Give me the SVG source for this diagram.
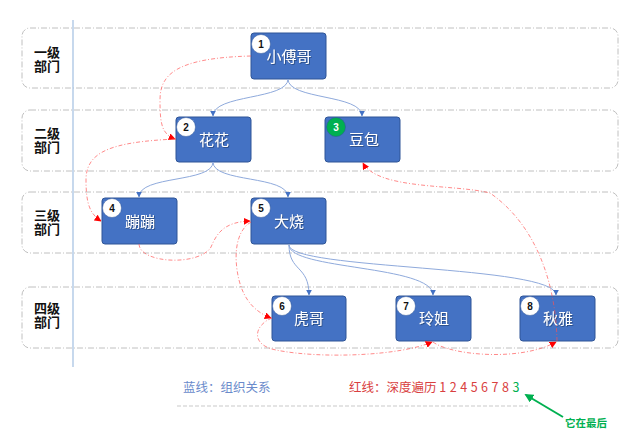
<svg xmlns="http://www.w3.org/2000/svg" width="639" height="438" viewBox="0 0 639 438">
  <defs>
    <marker id="arrBlue" viewBox="0 0 10 10" refX="9" refY="5" markerWidth="6" markerHeight="6" orient="auto" markerUnits="userSpaceOnUse">
      <path d="M0,0 L10,5 L0,10 z" fill="#4472C4"/>
    </marker>
    <marker id="arrRed" viewBox="0 0 10 10" refX="9" refY="5" markerWidth="7" markerHeight="7" orient="auto" markerUnits="userSpaceOnUse">
      <path d="M0,0 L10,5 L0,10 z" fill="#FF0000"/>
    </marker>
    <marker id="arrGreen" viewBox="0 0 10 10" refX="8" refY="5" markerWidth="9" markerHeight="9" orient="auto" markerUnits="userSpaceOnUse">
      <path d="M0,0 L10,5 L0,10 z" fill="#00B050"/>
    </marker>
    <filter id="txtShadow" x="-20%" y="-20%" width="140%" height="140%">
      <feDropShadow dx="0.8" dy="0.8" stdDeviation="0.4" flood-color="#1F3864" flood-opacity="0.7"/>
    </filter>
  </defs>
  <style>
    .band { fill: none; stroke: #C0C0C0; stroke-width: 1; stroke-dasharray: 6 2 1 2; }
    .lvl { font-family: "Liberation Sans", "Noto Sans CJK SC", sans-serif; font-size: 13px; font-weight: bold; fill: #111; text-anchor: middle; }
    .node rect { fill: #4472C4; stroke: #2F5597; stroke-width: 1; }
    .node .name { font-family: "Noto Sans CJK SC", sans-serif; font-size: 15px; fill: #FFFFFF; text-anchor: middle; filter: url(#txtShadow); }
    .badge { fill: #FFFFFF; stroke: #2F5597; stroke-width: 0.5; }
    .badge.green { fill: #00B050; }
    .num { font-family: "Liberation Sans", sans-serif; font-size: 10px; font-weight: bold; fill: #111; text-anchor: middle; }
    .num.white { fill: #FFFFFF; }
    .blue { fill: none; stroke: #8FAADC; stroke-width: 1; marker-end: url(#arrBlue); }
    .red { fill: none; stroke: #FF5050; stroke-opacity: 0.75; stroke-width: 0.9; stroke-dasharray: 4 2 1 2; marker-end: url(#arrRed); }
    .legend { font-family: "Noto Sans CJK SC", sans-serif; font-size: 12.5px; }
  </style>

  <rect width="639" height="438" fill="#FFFFFF"/>

  <!-- level bands -->
  <g id="bands">
    <rect class="band" x="22" y="28" width="596" height="60" rx="8"/>
    <rect class="band" x="22" y="110" width="596" height="61" rx="8"/>
    <rect class="band" x="22" y="192" width="596" height="61" rx="8"/>
    <rect class="band" x="22" y="287" width="596" height="61" rx="8"/>
    <line x1="73" y1="20" x2="73" y2="367" stroke="#A9C4E4" stroke-width="1.3"/>
  </g>

  <!-- level labels -->
  <g id="levels">
    <text class="lvl" x="47" y="57">一级</text>
    <text class="lvl" x="47" y="71">部门</text>
    <text class="lvl" x="47" y="138">二级</text>
    <text class="lvl" x="47" y="152">部门</text>
    <text class="lvl" x="47" y="220">三级</text>
    <text class="lvl" x="47" y="234">部门</text>
    <text class="lvl" x="47" y="313">四级</text>
    <text class="lvl" x="47" y="327">部门</text>
  </g>

  <!-- nodes -->
  <g id="n1" class="node">
    <rect x="251" y="33" width="75" height="46" rx="3"/>
    <text class="name" x="289" y="62">小傅哥</text>
    <circle class="badge" cx="261" cy="44" r="9.5"/>
    <text class="num" x="261" y="47.5">1</text>
  </g>
  <g id="n2" class="node">
    <rect x="176" y="117" width="75" height="45" rx="3"/>
    <text class="name" x="214" y="145">花花</text>
    <circle class="badge" cx="186" cy="127" r="9.5"/>
    <text class="num" x="186" y="130.5">2</text>
  </g>
  <g id="n3" class="node">
    <rect x="325" y="117" width="75" height="45" rx="3"/>
    <text class="name" x="364" y="145">豆包</text>
    <circle class="badge green" cx="336" cy="127" r="9.5"/>
    <text class="num white" x="336" y="130.5">3</text>
  </g>
  <g id="n4" class="node">
    <rect x="102" y="198" width="75" height="46" rx="3"/>
    <text class="name" x="140" y="227">蹦蹦</text>
    <circle class="badge" cx="112" cy="208" r="9.5"/>
    <text class="num" x="112" y="211.5">4</text>
  </g>
  <g id="n5" class="node">
    <rect x="251" y="198" width="75" height="46" rx="3"/>
    <text class="name" x="289" y="227">大烧</text>
    <circle class="badge" cx="261" cy="208" r="9.5"/>
    <text class="num" x="261" y="211.5">5</text>
  </g>
  <g id="n6" class="node">
    <rect x="272" y="296" width="74" height="45" rx="3"/>
    <text class="name" x="309" y="324">虎哥</text>
    <circle class="badge" cx="282" cy="306" r="9.5"/>
    <text class="num" x="282" y="309.5">6</text>
  </g>
  <g id="n7" class="node">
    <rect x="396" y="296" width="75" height="45" rx="3"/>
    <text class="name" x="434" y="324">玲姐</text>
    <circle class="badge" cx="406" cy="306" r="9.5"/>
    <text class="num" x="406" y="309.5">7</text>
  </g>
  <g id="n8" class="node">
    <rect x="520" y="296" width="75" height="45" rx="3"/>
    <text class="name" x="558" y="324">秋雅</text>
    <circle class="badge" cx="530" cy="306" r="9.5"/>
    <text class="num" x="530" y="309.5">8</text>
  </g>

  <!-- connectors: blue = reporting lines, red = depth-first visiting order -->
  <g id="connectors">
    <path class="blue" d="M288,79 C288,100 213,94 213,116"/>
    <path class="blue" d="M288,79 C288,100 362,94 362,116"/>
    <path class="blue" d="M213,162 C213,183 139,175 139,197"/>
    <path class="blue" d="M213,162 C213,183 288,175 288,197"/>
    <path class="blue" d="M289,245 C289,272 309,265 309,295"/>
    <path class="blue" d="M289,245 C289,270 433,265 433,295"/>
    <path class="blue" d="M289,245 C289,270 556,265 556,295"/>

    <path class="red" d="M251,56 C175,58 160,75 160,100 C160,125 162,134 175,139"/>
    <path class="red" d="M176,139 C110,142 86,152 86,180 C86,204 90,214 101,221"/>
    <path class="red" d="M139,244 C140,264 200,266 211,247 C217,233 224,222 250,221"/>
    <path class="red" d="M251,222 C234,232 234,260 239,280 C244,300 255,312 271,318"/>
    <path class="red" d="M272,318 C254,325 250,345 276,350 C320,359 400,356 432,342"/>
    <path class="red" d="M433,342 C450,355 520,362 556,342"/>
    <path class="red" d="M557,341 C556,290 540,228 490,193 C455,184 378,190 363,163"/>
  </g>

  <!-- legend -->
  <g id="legend">
    <text class="legend" x="183" y="392" fill="#6A8BCB">蓝线：组织关系</text>
    <text class="legend" x="349" y="392" fill="#D94040">红线：深度遍历 <tspan letter-spacing="0.35">1 2 4 5 6 7 8 </tspan><tspan fill="#00B050">3</tspan></text>
    <line x1="177" y1="406" x2="528" y2="406" stroke="#DCDCDC" stroke-width="1.5" stroke-dasharray="4 2"/>
    <line x1="563" y1="417" x2="526" y2="395" stroke="#00B050" stroke-width="2" marker-end="url(#arrGreen)"/>
    <text x="565" y="427" font-family="Noto Sans CJK SC, sans-serif" font-size="10.5" font-weight="bold" fill="#00B050">它在最后</text>
  </g>
</svg>
